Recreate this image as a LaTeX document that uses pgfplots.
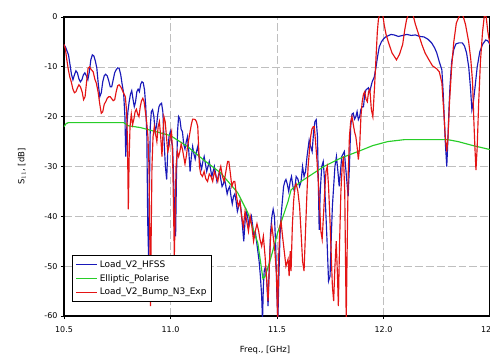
\documentclass[border=0pt]{standalone}
\usepackage{fontspec}
\setmainfont{DejaVu Sans}
\usepackage{pgfplots}
\pgfplotsset{compat=1.18}
\definecolor{hfssblue}{RGB}{25,25,185}
\definecolor{ellgreen}{RGB}{40,205,40}
\definecolor{expred}{RGB}{228,20,20}
\begin{document}
\begin{tikzpicture}
\begin{axis}[
  scale only axis, width=426bp, height=299bp,
  xmin=10.5, xmax=12.5, ymin=-60, ymax=0,
  xtick={10.5,11,11.5,12,12.5}, ytick={-60,-50,-40,-30,-20,-10,0},
  xticklabel style={/pgf/number format/fixed,/pgf/number format/precision=1,/pgf/number format/fixed zerofill, yshift=-4bp},
  /pgf/number format/assume math mode=true,
  tick label style={font=\fontsize{8}{9.5}\selectfont},
  tick align=outside, major tick length=3bp, tick style={black, line width=0.8pt},
  xtick pos=left, ytick pos=left,
  axis line style={black, line width=1.3pt},
  grid=major, major grid style={gray!50, line width=0.6pt, dash pattern=on 8pt off 3pt},
  xlabel={Freq., [GHz]}, ylabel={S$_{11}$, [dB]},
  label style={font=\fontsize{8.5}{10}\selectfont},
  xlabel style={at={(axis description cs:0.472,-0.114)}, anchor=center},
  ylabel style={at={(axis description cs:-0.099,0.5)}, anchor=center},
  legend style={at={(0.019,0.047)}, anchor=south west, draw=black, line width=1.3pt,
    font=\fontsize{9}{10.5}\selectfont, inner xsep=3bp, inner ysep=3bp, row sep=1.5bp},
  legend cell align=left,
  legend image code/.code={\draw[#1, line width=1.1pt] (0bp,0bp) -- (21bp,0bp);},
  every axis plot/.append style={line width=1.15pt},
]
\addplot[color=hfssblue] coordinates {
(10.500,-5.6)(10.507,-6.0)(10.514,-6.8)(10.521,-7.6)(10.528,-9.5)(10.535,-11.5)(10.542,-12.6)(10.549,-11.6)(10.556,-10.8)(10.563,-11.2)(10.570,-12.4)(10.577,-13.0)(10.584,-12.6)(10.591,-11.6)(10.598,-11.2)(10.605,-11.8)(10.612,-12.6)(10.619,-11)(10.626,-8.6)(10.633,-7.6)(10.640,-7.8)(10.647,-8.8)(10.654,-10.2)(10.661,-13.5)(10.668,-16)(10.675,-15.2)(10.682,-13)(10.689,-11.8)(10.696,-11.5)(10.703,-11.8)(10.710,-12.8)(10.717,-14)(10.724,-14)(10.731,-12.6)(10.738,-11.2)(10.745,-10.6)(10.752,-10.2)(10.759,-10.3)(10.766,-11.5)(10.773,-13.5)(10.780,-15.3)(10.786,-20)(10.790,-28)(10.795,-22)(10.800,-19)(10.806,-17)(10.812,-15.5)(10.818,-14.8)(10.824,-16.5)(10.830,-18)(10.836,-17)(10.842,-15)(10.848,-14.5)(10.854,-15)(10.860,-13.5)(10.866,-13)(10.872,-13.2)(10.878,-14.6)(10.884,-18)(10.889,-24)(10.893,-41)(10.897,-48)(10.901,-35)(10.905,-22)(10.910,-19)(10.916,-18.6)(10.922,-20)(10.928,-23)(10.934,-22)(10.940,-19.6)(10.946,-18)(10.952,-17.5)(10.958,-17.3)(10.964,-19)(10.970,-25)(10.976,-30)(10.982,-32.6)(10.987,-27)(10.993,-24)(10.999,-23)(11.005,-25)(11.010,-26)(11.015,-33)(11.020,-40)(11.024,-44)(11.028,-32)(11.033,-23)(11.038,-20)(11.044,-20.5)(11.050,-22.5)
(11.056,-23)(11.062,-25.5)(11.068,-26.5)(11.074,-25)(11.080,-24)(11.086,-27)(11.092,-31)(11.098,-28)(11.104,-26)(11.110,-27.5)(11.116,-28.5)(11.122,-27)(11.128,-26)(11.134,-28)(11.140,-29.5)(11.146,-30.5)(11.152,-29)(11.158,-28)(11.164,-29.5)(11.170,-31)(11.176,-30)(11.182,-29)(11.188,-30.5)(11.194,-32)(11.200,-31)(11.206,-30)(11.212,-31.5)(11.218,-33)(11.224,-32)(11.230,-31)(11.236,-32.5)(11.242,-34)(11.248,-33.5)(11.254,-32.5)(11.260,-34)(11.266,-35.5)(11.272,-34.5)(11.278,-34)(11.284,-36)(11.290,-37.5)(11.296,-36)(11.302,-35.5)(11.308,-37)(11.314,-39)(11.320,-38)(11.326,-37)(11.332,-39)(11.338,-42)(11.344,-45)(11.350,-41)(11.356,-39)(11.362,-40)(11.368,-42)(11.374,-41)(11.380,-40)(11.386,-42)(11.392,-44)(11.398,-43)(11.404,-45)(11.410,-47)(11.416,-49)(11.422,-52)(11.428,-56)(11.432,-61)(11.436,-54)(11.440,-51)(11.446,-50)(11.452,-53)(11.458,-58)(11.464,-50)(11.470,-43)(11.476,-40)(11.482,-38.6)(11.488,-40)(11.494,-46)(11.499,-55)(11.504,-61)(11.509,-52)(11.514,-44)(11.519,-40)(11.525,-37)(11.531,-34)(11.537,-33)(11.542,-32.6)
(11.548,-33.5)(11.555,-35)(11.562,-33)(11.568,-32)(11.575,-34)(11.582,-35)(11.590,-32)(11.598,-32.5)(11.606,-34)(11.613,-33)(11.620,-30)(11.627,-32)(11.634,-31)(11.641,-28)(11.651,-24.7)(11.658,-26)(11.665,-27)(11.672,-23)(11.678,-21)(11.684,-20.6)(11.690,-24)(11.694,-33)(11.698,-42.7)(11.703,-35)(11.710,-30)(11.717,-29)(11.722,-32)(11.728,-38)(11.735,-45)(11.742,-53)(11.749,-52)(11.755,-44)(11.760,-38)(11.766,-34)(11.772,-30)(11.779,-28)(11.786,-31)(11.792,-34)(11.798,-31)(11.804,-28)(11.810,-27.5)(11.816,-27)(11.822,-30)(11.828,-33)(11.834,-36)(11.840,-30)(11.846,-22)(11.852,-19.5)(11.858,-19.3)(11.864,-20.5)(11.870,-20)(11.876,-19)(11.882,-20.6)(11.888,-20)(11.894,-18.5)(11.900,-18)(11.906,-18)(11.912,-15.5)(11.918,-14.6)(11.924,-14.4)(11.929,-14.2)(11.935,-15)(11.941,-14)(11.947,-13)(11.957,-12)(11.965,-10)(11.972,-8)(11.980,-6)(11.990,-5)(12.000,-4.4)
(12.010,-4)(12.020,-3.8)(12.035,-3.5)(12.050,-3.6)(12.070,-3.9)(12.090,-3.7)(12.110,-3.5)(12.130,-3.7)(12.150,-3.6)(12.170,-3.9)(12.190,-4.0)(12.210,-4.5)(12.226,-5.2)(12.240,-6.2)(12.250,-7.2)(12.262,-9)(12.274,-10.6)(12.280,-15)(12.285,-20)(12.290,-25)(12.297,-30)(12.302,-25)(12.307,-19)(12.312,-14)(12.320,-9)(12.330,-6.5)(12.340,-5.4)(12.354,-5.2)(12.370,-5.2)(12.380,-5.8)(12.390,-7.2)(12.400,-10)(12.408,-14)(12.415,-18.6)(12.422,-17)(12.430,-14)(12.440,-10)(12.452,-7)(12.465,-5.5)(12.480,-4.6)(12.490,-4.8)(12.500,-5.5)
};
\addlegendentry{Load\_V2\_HFSS}
\addplot[color=ellgreen] coordinates {
(10.500,-22.0)(10.510,-21.4)(10.520,-21.2)(10.780,-21.2)(10.800,-21.8)(10.860,-22.2)(10.930,-23)(11.000,-23.8)(11.080,-26)(11.156,-28.7)(11.236,-31.3)(11.316,-35.3)(11.363,-39.3)(11.410,-45.4)(11.434,-52.5)(11.445,-52)(11.470,-48.5)(11.505,-43)(11.552,-37)(11.566,-34.7)(11.613,-33)(11.720,-30)(11.800,-28.3)(11.880,-27)(11.950,-25.8)(12.020,-25.0)(12.100,-24.6)(12.300,-24.6)(12.350,-25.0)(12.420,-25.8)(12.500,-26.6)
};
\addlegendentry{Elliptic\_Polarise}
\addplot[color=expred] coordinates {
(10.500,-5.5)(10.506,-6.3)(10.513,-8.5)(10.520,-10.5)(10.527,-12)(10.534,-13)(10.542,-14.5)(10.549,-15.2)(10.556,-15)(10.563,-14.2)(10.570,-13.6)(10.577,-14)(10.585,-15)(10.592,-16.6)(10.599,-16)(10.606,-13)(10.613,-10.3)(10.620,-10)(10.627,-10.5)(10.637,-11)(10.645,-12.5)(10.652,-13.3)(10.660,-15)(10.668,-17.5)(10.675,-19.3)(10.682,-19)(10.689,-17.5)(10.696,-17)(10.703,-16.3)(10.710,-16)(10.717,-16)(10.724,-16.4)(10.731,-16.8)(10.738,-16.6)(10.745,-15)(10.752,-13.8)(10.759,-13.6)(10.766,-14)(10.773,-14.6)(10.780,-15.3)(10.788,-16)(10.794,-19)(10.798,-25)(10.802,-38.6)(10.806,-28)(10.810,-22)(10.816,-19.5)
(10.822,-21.6)(10.828,-20.5)(10.834,-19)(10.840,-18.5)(10.846,-19.5)(10.852,-20)(10.858,-18)(10.864,-16.8)(10.870,-16.3)(10.876,-17)(10.882,-19)(10.888,-21)(10.894,-24)(10.899,-30)(10.903,-45)(10.906,-58)(10.909,-45)(10.913,-30)(10.918,-24)(10.924,-22)(10.930,-23.5)(10.936,-25)(10.942,-22)(10.948,-21)(10.954,-24)(10.960,-28)(10.964,-24)(10.969,-20)(10.975,-21)(10.981,-24)(10.987,-27)(10.993,-26)(10.999,-24)(11.005,-23)(11.010,-28)(11.014,-38)(11.018,-48)(11.022,-40)(11.026,-30)(11.032,-27)(11.038,-28)(11.044,-27)(11.050,-25.5)(11.056,-26.5)(11.062,-28)(11.068,-29.5)(11.074,-28)(11.080,-26)(11.086,-24.5)(11.092,-23)(11.098,-21.5)(11.104,-20.5)(11.110,-20.5)(11.116,-20.6)(11.122,-21)(11.128,-22)(11.132,-26)(11.136,-30)
(11.142,-31.5)(11.150,-32)(11.158,-31)(11.166,-32.5)(11.174,-33)(11.182,-31.5)(11.190,-32)(11.198,-33)(11.206,-31)(11.214,-32)(11.222,-33)(11.230,-31)(11.236,-30)(11.244,-32)(11.252,-33)(11.260,-31)(11.268,-29)(11.274,-29)(11.280,-31)(11.288,-34)(11.296,-33)(11.302,-33)(11.310,-36)(11.318,-38)(11.326,-37)(11.334,-40)(11.342,-42)(11.350,-39)(11.358,-41)(11.366,-43)(11.374,-40)(11.382,-42)(11.390,-45)(11.398,-43)(11.406,-41.5)(11.414,-43)(11.420,-44.6)(11.428,-46)(11.436,-44)(11.444,-48)(11.452,-53)(11.458,-57)(11.464,-50)(11.470,-44)(11.476,-42)(11.482,-44)(11.490,-47)(11.498,-52)(11.503,-61)(11.508,-48)(11.514,-42)(11.519,-41)(11.526,-44)(11.534,-47)(11.542,-50)(11.552,-48.6)(11.557,-52)(11.562,-47)(11.566,-51)(11.572,-42)(11.578,-37)(11.584,-34)(11.590,-33.5)(11.598,-35)(11.606,-38)(11.614,-44)(11.620,-49)(11.627,-51)(11.633,-44)(11.640,-36)(11.646,-30)(11.652,-27)(11.658,-24)(11.664,-22.5)(11.670,-22)(11.675,-22)(11.681,-25)(11.688,-29)(11.694,-33)(11.700,-38)(11.706,-43)(11.712,-44.6)(11.718,-40)(11.724,-35)(11.730,-31)(11.736,-30)(11.742,-34)(11.748,-40)(11.754,-47)(11.760,-54)(11.766,-57)(11.772,-50)(11.778,-45)(11.784,-52)(11.788,-58)(11.794,-45)(11.800,-35)(11.806,-30)(11.812,-28)(11.818,-35)(11.822,-50)(11.825,-61)(11.829,-48)(11.834,-32)(11.840,-24)(11.846,-21)(11.852,-20)(11.858,-21.5)(11.864,-23)(11.870,-24)(11.876,-26)(11.882,-28.6)(11.888,-26)(11.894,-20)(11.900,-17)(11.906,-15.5)(11.912,-15)(11.918,-16.5)(11.924,-17)(11.930,-15)(11.936,-14.5)(11.943,-18.6)(11.950,-20)(11.958,-14)(11.965,-8)(11.971,-3)(11.976,-0.5)(11.985,1)(11.995,1)(12.003,-1.5)(12.012,-3.5)(12.024,-5.2)(12.040,-7.2)(12.061,-8.6)(12.075,-7.5)(12.090,-5.5)(12.100,-2.5)(12.108,-0.6)(12.120,1)(12.135,1)(12.150,-1.5)(12.165,-3.5)(12.180,-5.5)(12.195,-7.2)(12.212,-8.5)(12.230,-9.8)(12.250,-10.4)(12.262,-11)(12.274,-13.2)(12.283,-19)(12.290,-24)(12.297,-27)(12.303,-24)(12.310,-17)(12.320,-10)(12.330,-5)(12.342,-1.2)(12.354,0)(12.365,1)(12.375,0)(12.385,-1.5)(12.400,-5)(12.410,-8.6)(12.418,-13)(12.424,-20.6)(12.429,-26)(12.434,-30.7)(12.440,-26)(12.447,-17)(12.455,-9)(12.465,-3)(12.474,0.5)(12.482,0)(12.490,-3)(12.500,-5.5)
};
\addlegendentry{Load\_V2\_Bump\_N3\_Exp}
\end{axis}
\pgfresetboundingbox
\path[use as bounding box] ([shift={(-64bp,-42bp)}]current axis.south west) rectangle ([shift={(0bp,17bp)}]current axis.north east);
\end{tikzpicture}
\end{document}
